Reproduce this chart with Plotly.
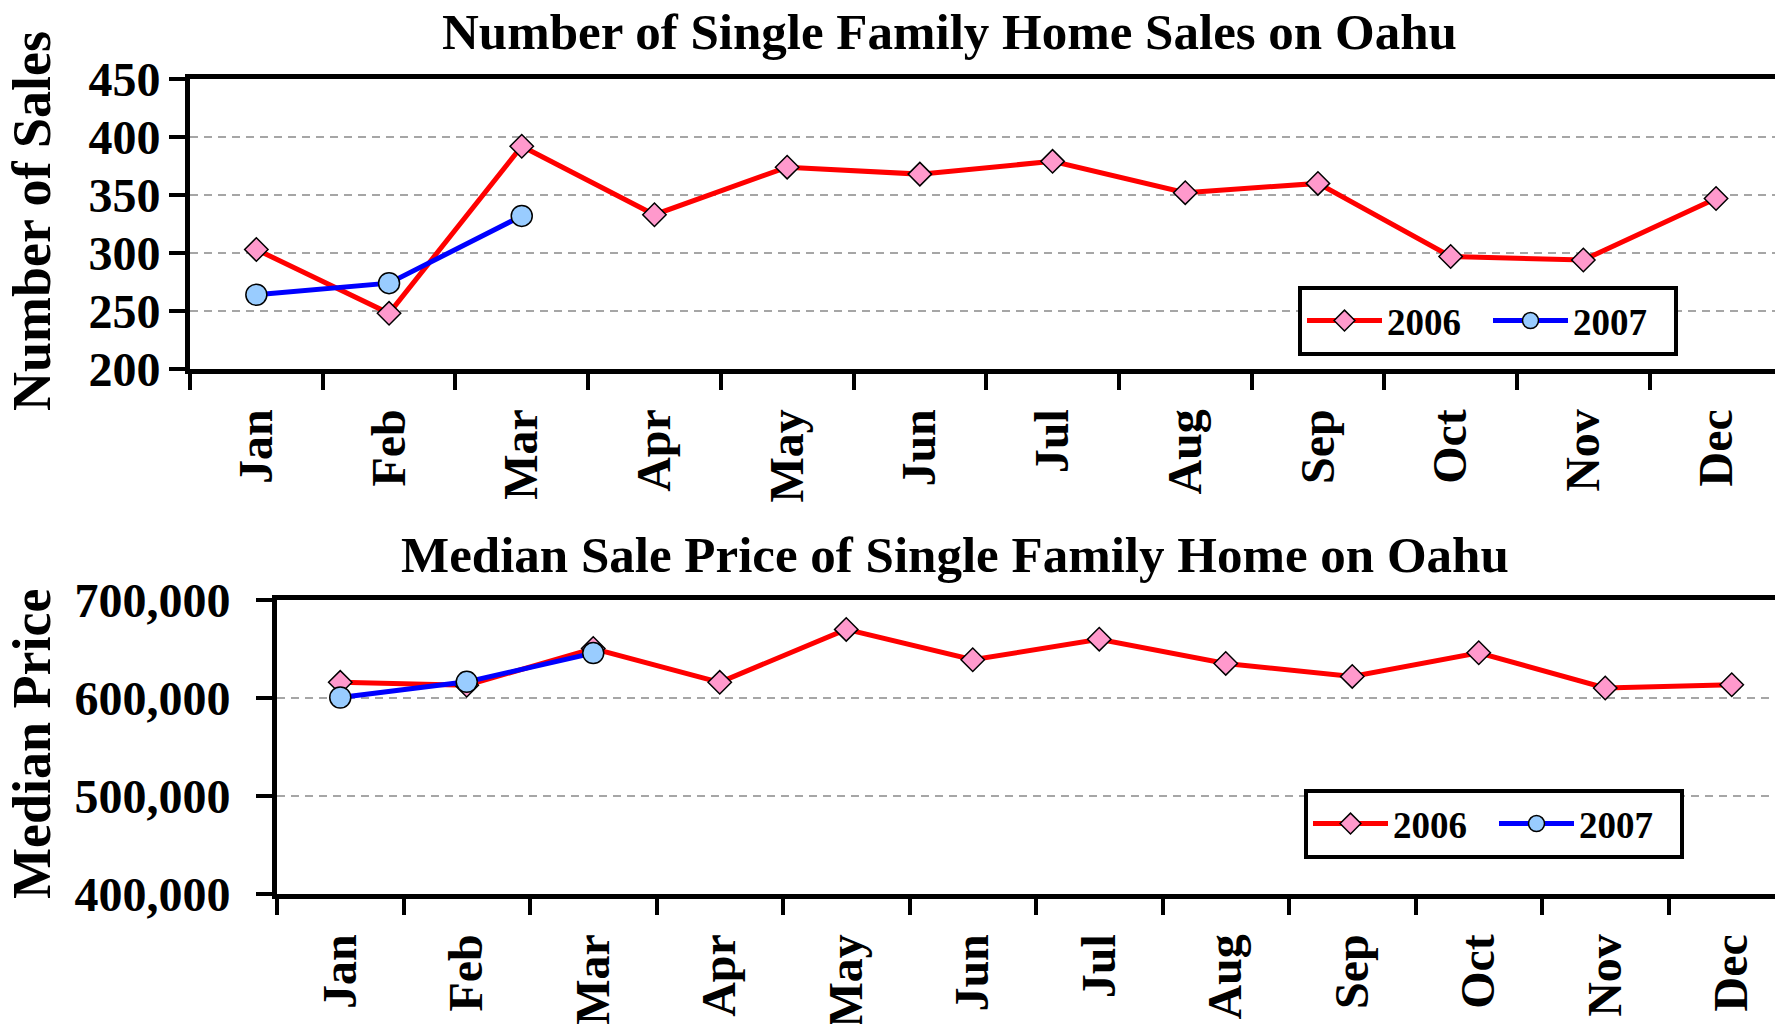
import plotly.graph_objects as go

# Monthly single family home sales and median prices, Oahu
months = ["Jan", "Feb", "Mar", "Apr", "May", "Jun",
          "Jul", "Aug", "Sep", "Oct", "Nov", "Dec"]

sales_2006 = [303, 248, 392, 333, 374, 368, 379, 352, 360, 297, 294, 347]
sales_2007 = [264, 274, 332]

price_2006 = [616000, 613000, 650500, 616000, 670000, 639000,
              660000, 635300, 622000, 646200, 610200, 613500]
price_2007 = [600500, 616500, 645800]

W, H = 1775, 1024
FONT = "Liberation Serif"
RED, PINK = "#FF0000", "#FF99CC"
BLUE, LIGHTBLUE = "#0000FF", "#99CCFF"
GRID = "#A6A6A6"


def px_x(p):
    return p / W


def px_y(p):
    return 1 - p / H


def series(x, y, name, line_color, fill, symbol, size, xaxis, yaxis, legend):
    return go.Scatter(
        x=x, y=y, name=name, mode="lines+markers",
        line=dict(color=line_color, width=5),
        marker=dict(symbol=symbol, size=size, color=fill,
                    line=dict(color="black", width=1.5)),
        xaxis=xaxis, yaxis=yaxis, legend=legend,
    )


fig = go.Figure()
fig.add_trace(series(months, sales_2006, "2006", RED, PINK, "diamond", 18, "x", "y", "legend"))
fig.add_trace(series(months[:len(sales_2007)], sales_2007, "2007", BLUE, LIGHTBLUE, "circle", 21, "x", "y", "legend"))
fig.add_trace(series(months, price_2006, "2006", RED, PINK, "diamond", 18, "x2", "y2", "legend2"))
fig.add_trace(series(months[:len(price_2007)], price_2007, "2007", BLUE, LIGHTBLUE, "circle", 21, "x2", "y2", "legend2"))

tick_font = dict(family=FONT, size=48, color="black", weight="bold")

common_x = dict(
    type="category", categoryorder="array", categoryarray=months,
    tickson="boundaries", ticks="outside", ticklen=16, tickwidth=4,
    tickcolor="black", showline=True, linewidth=5, linecolor="black",
    mirror=True, tickangle=-90, tickfont=tick_font, showgrid=False,
    zeroline=False, automargin=False, ticklabelstandoff=16,
)
common_y = dict(
    ticks="outside", ticklen=16, tickwidth=4, tickcolor="black",
    showline=True, linewidth=5, linecolor="black", zeroline=False,
    showgrid=True, gridcolor=GRID, gridwidth=1.5, griddash="8px,6px",
    tickfont=tick_font, automargin=False,
)

legend_common = dict(
    xanchor="left", yanchor="top", orientation="h", bgcolor="white",
    bordercolor="black", borderwidth=4, itemwidth=75, entrywidth=96,
    font=dict(family=FONT, size=37, color="black", weight="bold"),
)

fig.update_layout(
    width=W, height=H,
    margin=dict(l=0, r=0, t=0, b=0, autoexpand=False),
    paper_bgcolor="white", plot_bgcolor="white",
    xaxis=dict(common_x, domain=[px_x(190), 1], anchor="y",
               range=[-0.5, -0.5 + (W - 190) / 132.7]),
    yaxis=dict(common_y, domain=[px_y(369), px_y(79)], anchor="x",
               range=[200, 450], dtick=50, ticklabelstandoff=-1),
    xaxis2=dict(common_x, domain=[px_x(277), 1], anchor="y2",
                range=[-0.5, -0.5 + (W - 277) / 126.5]),
    yaxis2=dict(common_y, domain=[px_y(894), px_y(600)], anchor="x2",
                range=[400000, 700000], dtick=100000, tickformat=",d",
                ticklabelstandoff=16),
    legend=dict(legend_common, x=px_x(1298), y=px_y(286)),
    legend2=dict(legend_common, x=px_x(1304), y=px_y(789)),
    showlegend=True,
)

title_font = dict(family=FONT, size=51, color="black", weight="bold")
axis_title_font = dict(family=FONT, size=54, color="black", weight="bold")

fig.add_annotation(text="Number of Single Family Home Sales on Oahu",
                   x=px_x(949), y=px_y(32), xref="paper", yref="paper",
                   xanchor="center", yanchor="middle", showarrow=False,
                   font=title_font)
fig.add_annotation(text="Median Sale Price of Single Family Home on Oahu",
                   x=px_x(955), y=px_y(555), xref="paper", yref="paper",
                   xanchor="center", yanchor="middle", showarrow=False,
                   font=title_font)
fig.add_annotation(text="Number of Sales", textangle=-90,
                   x=px_x(32), y=px_y(221), xref="paper", yref="paper",
                   xanchor="center", yanchor="middle", showarrow=False,
                   font=axis_title_font)
fig.add_annotation(text="Median Price", textangle=-90,
                   x=px_x(32), y=px_y(744), xref="paper", yref="paper",
                   xanchor="center", yanchor="middle", showarrow=False,
                   font=axis_title_font)

fig.write_html("out.html")
